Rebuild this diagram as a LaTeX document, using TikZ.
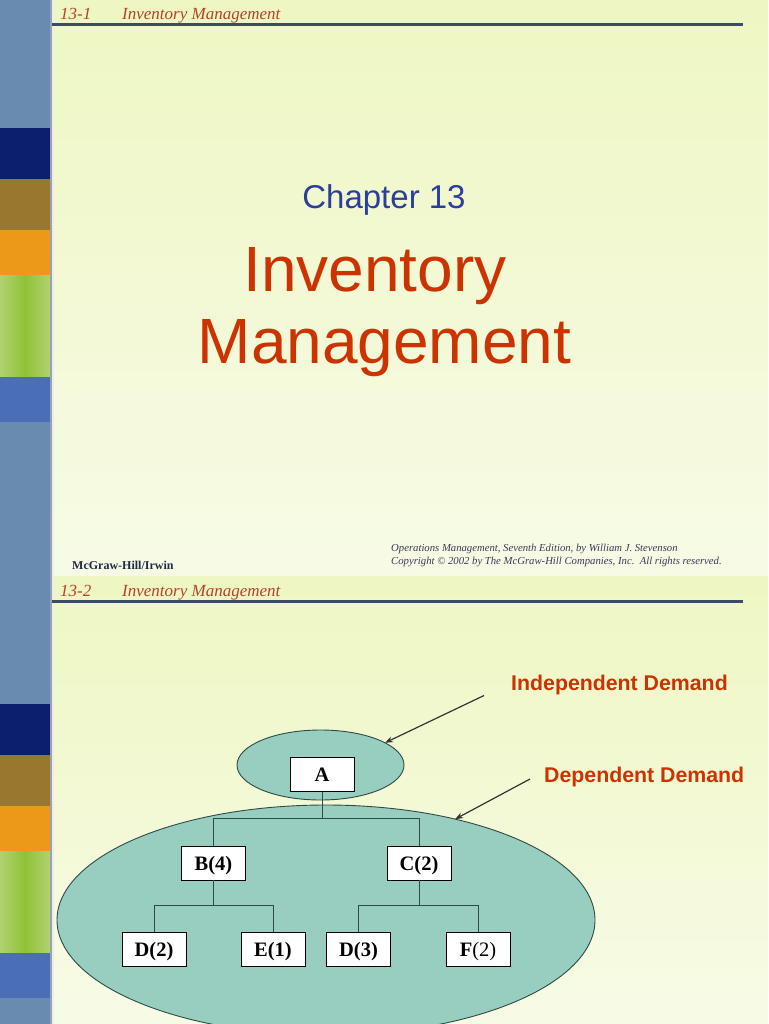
\documentclass[tikz,border=0pt]{standalone}
\usepackage{fontspec}
\setmainfont{Liberation Serif}
\newfontfamily\arial{Liberation Sans}
\usetikzlibrary{shapes.geometric,arrows.meta}
\definecolor{bgtop}{HTML}{EEF7C3}
\definecolor{bgbot}{HTML}{F7FBE6}
\definecolor{steel}{HTML}{6A8BB0}
\definecolor{navyb}{HTML}{0B1F6E}
\definecolor{brownb}{HTML}{98782F}
\definecolor{orangeb}{HTML}{EC991A}
\definecolor{greenl}{HTML}{B2D172}
\definecolor{greend}{HTML}{8EC236}
\definecolor{blueb}{HTML}{4A6EB8}
\definecolor{bordergray}{HTML}{9AA3AC}
\definecolor{hdrred}{HTML}{B8412A}
\definecolor{hdrline}{HTML}{3B4A66}
\definecolor{titleblue}{HTML}{2B3F9A}
\definecolor{titlered}{HTML}{CC3300}
\definecolor{footnavy}{HTML}{1F2A44}
\definecolor{footgray}{HTML}{3A3A5A}
\definecolor{tealfill}{HTML}{98CEC0}
\definecolor{tealline}{HTML}{2E4A44}
\definecolor{arrowgray}{HTML}{333333}
\tikzset{
  hdrtext/.style={anchor=base west, inner sep=0pt, text=hdrred, font=\fontsize{17}{17}\selectfont\itshape},
  hdrrule/.style={line width=3pt, hdrline},
  itembox/.style={draw=black, fill=white, line width=0.9pt, minimum width=64pt, minimum height=34pt, inner sep=0pt, text height=14pt, text depth=0pt, font=\fontsize{20.5}{20.5}\selectfont\bfseries},
  demandell/.style={ellipse, draw=tealline, fill=tealfill, line width=0.9pt, inner sep=0pt, outer sep=0pt},
  treeline/.style={line width=1pt, tealline},
  callout/.style={line width=1.2pt, arrowgray, -{Stealth[length=8pt,width=6pt]}},
  demandlabel/.style={anchor=base west, inner sep=0pt, text=titlered, font=\arial\bfseries\fontsize{21.3}{21.3}\selectfont}
}
\begin{document}
\begin{tikzpicture}[x=1pt,y=-1pt]
\useasboundingbox (0,0) rectangle (768,1024);
% slide backgrounds
\shade[top color=bgtop, bottom color=bgbot] (50,0) rectangle (768,576);
\shade[top color=bgtop, bottom color=bgbot] (50,576) rectangle (768,1024);
% sidebars
\foreach \off in {0,576}{
  \begin{scope}[shift={(0,\off)}]
    \fill[steel] (0,0) rectangle (50,128);
    \fill[navyb] (0,128) rectangle (50,179);
    \fill[brownb] (0,179) rectangle (50,230);
    \fill[orangeb] (0,230) rectangle (50,275);
    \shade[left color=greenl, right color=greenl, middle color=greend] (0,275) rectangle (50,377);
    \fill[blueb] (0,377) rectangle (50,422);
    \fill[steel] (0,422) rectangle (50,576);
  \end{scope}
}
\fill[bordergray] (50,0) rectangle (52,1024);
\fill[white!80!bordergray] (52,0) rectangle (53.5,1024);
% ---------- slide 1 ----------
\node[hdrtext] (h1n) at (60,20) {13-1};
\node[hdrtext] (h1t) at (122,20) {Inventory Management};
\draw[hdrrule] (52,25) -- (743,25);
\node[anchor=base, inner sep=0pt, text=titleblue, font=\arial\fontsize{33}{33}\selectfont] (chap) at (384,209) {Chapter 13};
\node[anchor=base, inner sep=0pt, text=titlered, font=\arial\fontsize{64}{64}\selectfont] (inv) at (375,291) {Inventory};
\node[anchor=base, inner sep=0pt, text=titlered, font=\arial\fontsize{64}{64}\selectfont] (mgmt) at (384.5,363) {Management};
\node[anchor=base west, inner sep=0pt, text=footnavy, font=\fontsize{12}{12}\selectfont\bfseries] (pub) at (72,569) {McGraw-Hill/Irwin};
\node[anchor=base west, inner sep=0pt, text=footgray, font=\fontsize{10.7}{10.7}\selectfont\itshape] (cr1) at (391,551) {Operations Management, Seventh Edition, by William J. Stevenson};
\node[anchor=base west, inner sep=0pt, text=footgray, font=\fontsize{10.7}{10.7}\selectfont\itshape] (cr2) at (391,564) {Copyright \textcopyright{} 2002 by The McGraw-Hill Companies, Inc.\ \ All rights reserved.};
% ---------- slide 2 ----------
\node[hdrtext] (h2n) at (60,596) {13-2};
\node[hdrtext] (h2t) at (122,596) {Inventory Management};
\draw[hdrrule] (52,601) -- (743,601);
% ellipses
\node[demandell, minimum width=538pt, minimum height=230pt] (dep) at (326,920) {};
\node[demandell, minimum width=167pt, minimum height=70pt] (ind) at (320.5,765) {};
% boxes
\node[itembox] (A) at (322,774.5) {A};
\node[itembox] (B) at (213.5,863) {B(4)};
\node[itembox] (C) at (419,863) {C(2)};
\node[itembox] (D2) at (154,949) {D(2)};
\node[itembox] (E1) at (273,949) {E(1)};
\node[itembox] (D3) at (358.5,949) {D(3)};
\node[itembox] (F2) at (478,949) {F{\mdseries(2)}};
% bus coordinates
\coordinate (busA) at (0,818);
\coordinate (busB) at (0,905);
% tree connectors
\draw[treeline] (A.south) -- (A.south |- busA);
\draw[treeline] (B.north) |- (C.north |- busA) -- (C.north);
\draw[treeline] (B.south) -- (B.south |- busB);
\draw[treeline] (D2.north) |- (E1.north |- busB) -- (E1.north);
\draw[treeline] (C.south) -- (C.south |- busB);
\draw[treeline] (D3.north) |- (F2.north |- busB) -- (F2.north);
% labels and callouts
\node[demandlabel] (indl) at (511,690) {Independent Demand};
\node[demandlabel] (depl) at (544,782) {Dependent Demand};
\coordinate (indstart) at (484,695.5);
\coordinate (depstart) at (530,779);
\draw[callout] (indstart) -- (ind.19);
\draw[callout] (depstart) -- (dep.38);
\end{tikzpicture}
\end{document}
